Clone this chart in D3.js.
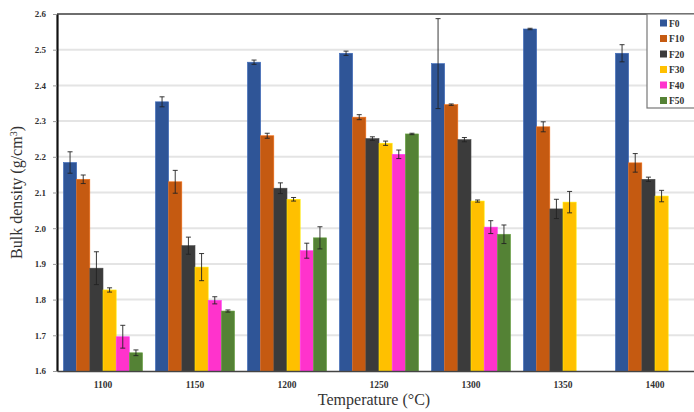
<!DOCTYPE html>
<html>
<head>
<meta charset="utf-8">
<script src="https://cdn.jsdelivr.net/npm/d3@7"></script>
<style>
  html, body { margin: 0; padding: 0; background: #fff; }
  svg { display: block; }
</style>
</head>
<body>
<svg id="chart" width="694" height="412"></svg>
<script>
// Sintering temperatures (°C)
const temperatures = ["1100", "1150", "1200", "1250", "1300", "1350", "1400"];
const seriesNames = ["F0", "F10", "F20", "F30", "F40", "F50"];
const seriesColors = ["#2F5597", "#C55A11", "#3B3B3B", "#FFC000", "#FF33CC", "#548235"];

// Bulk density (g/cm³) per mix, one value per temperature (null = not measured)
const F0  = [2.184, 2.354, 2.465, 2.490, 2.461, 2.558, 2.490];
const F10 = [2.137, 2.130, 2.259, 2.311, 2.346, 2.284, 2.183];
const F20 = [1.888, 1.951, 2.112, 2.251, 2.248, 2.054, 2.137];
const F30 = [1.827, 1.891, 2.081, 2.238, 2.076, 2.073, 2.090];
const F40 = [1.696, 1.798, 1.937, 2.207, 2.003, null, null];
const F50 = [1.651, 1.768, 1.973, 2.264, 1.983, null, null];

// Standard deviations
const F0err  = [0.030, 0.014, 0.006, 0.006, 0.126, 0.002, 0.024];
const F10err = [0.012, 0.032, 0.007, 0.007, 0.002, 0.014, 0.026];
const F20err = [0.046, 0.024, 0.015, 0.005, 0.006, 0.027, 0.006];
const F30err = [0.006, 0.038, 0.005, 0.006, 0.003, 0.030, 0.016];
const F40err = [0.032, 0.010, 0.021, 0.012, 0.018, null, null];
const F50err = [0.008, 0.003, 0.031, 0.002, 0.026, null, null];

const yTicks = [1.6, 1.7, 1.8, 1.9, 2.0, 2.1, 2.2, 2.3, 2.4, 2.5, 2.6];

const values = [F0, F10, F20, F30, F40, F50];
const errors = [F0err, F10err, F20err, F30err, F40err, F50err];

const rows = [];
seriesNames.forEach((s, si) => {
  temperatures.forEach((t, ti) => {
    const v = values[si][ti];
    if (v != null) rows.push({ series: s, si, temp: t, value: v, err: errors[si][ti] });
  });
});

const svg = d3.select("#chart");
const margin = { left: 57, top: 14, right: -7, bottom: 41 };
const W = 694, H = 412;
const plotRight = W - margin.right;
const plotBottom = H - margin.bottom;

const x0 = d3.scaleBand().domain(temperatures).range([margin.left, plotRight]).paddingInner(0).paddingOuter(0);
const x1 = d3.scaleBand().domain(seriesNames).range([0, x0.bandwidth()]).paddingInner(0).paddingOuter(0.49);
const y = d3.scaleLinear().domain([1.6, 2.6]).range([plotBottom, margin.top]);
const color = d3.scaleOrdinal().domain(seriesNames).range(seriesColors);

// Gridlines
svg.append("g")
  .selectAll("line")
  .data(yTicks.filter(d => d > 1.6 && d < 2.6))
  .join("line")
  .attr("x1", margin.left).attr("x2", W)
  .attr("y1", d => y(d)).attr("y2", d => y(d))
  .attr("stroke", "#e4e4e4").attr("stroke-width", 2);

// Bars
svg.append("g")
  .selectAll("rect")
  .data(rows)
  .join("rect")
  .attr("x", d => x0(d.temp) + x1(d.series))
  .attr("y", d => y(d.value))
  .attr("width", x1.bandwidth())
  .attr("height", d => y(1.6) - y(d.value))
  .attr("fill", d => color(d.series))
  .attr("stroke", d => d3.color(color(d.series)).brighter(0.6))
  .attr("stroke-width", 0.6);

// Error bars
const eb = svg.append("g").attr("stroke", "#222").attr("stroke-width", 0.9);
rows.forEach(d => {
  const cx = x0(d.temp) + x1(d.series) + x1.bandwidth() / 2;
  const yTop = y(d.value + d.err), yBot = y(d.value - d.err);
  eb.append("line").attr("x1", cx).attr("x2", cx).attr("y1", yTop).attr("y2", yBot);
  eb.append("line").attr("x1", cx - 2.5).attr("x2", cx + 2.5).attr("y1", yTop).attr("y2", yTop);
  eb.append("line").attr("x1", cx - 2.5).attr("x2", cx + 2.5).attr("y1", yBot).attr("y2", yBot);
});

// Top frame line
svg.append("line")
  .attr("x1", margin.left).attr("x2", W)
  .attr("y1", margin.top).attr("y2", margin.top)
  .attr("stroke", "#6e6e6e").attr("stroke-width", 2);

// Y axis
const yAxis = svg.append("g")
  .attr("transform", `translate(${margin.left},0)`)
  .call(d3.axisLeft(y).tickValues(yTicks).tickFormat(d3.format(".1f")).tickSize(4).tickSizeOuter(0));
yAxis.select(".domain").attr("stroke", "#111").attr("stroke-width", 2.2);
yAxis.selectAll(".tick line").attr("stroke", "#999");
yAxis.selectAll("text")
  .attr("x", -11)
  .attr("font-family", "Liberation Serif, DejaVu Serif, serif")
  .attr("font-size", 9).attr("font-weight", "bold").attr("fill", "#333");

// X axis
const xAxis = svg.append("g")
  .attr("transform", `translate(0,${plotBottom})`)
  .call(d3.axisBottom(x0).tickSize(0).tickSizeOuter(0));
xAxis.select(".domain").attr("stroke", "#444").attr("stroke-width", 1.6);
xAxis.selectAll("text")
  .attr("dy", "1.5em")
  .attr("font-family", "Liberation Serif, DejaVu Serif, serif")
  .attr("font-size", 9.5).attr("font-weight", "bold").attr("fill", "#333");

// Axis titles
svg.append("text")
  .attr("transform", `translate(22,${(margin.top + plotBottom) / 2}) rotate(-90)`)
  .attr("text-anchor", "middle")
  .attr("font-family", "Liberation Serif, DejaVu Serif, serif")
  .attr("font-size", 16).attr("fill", "#333")
  .html('Bulk density (g/cm<tspan baseline-shift="super" font-size="10">3</tspan>)');

svg.append("text")
  .attr("x", 374).attr("y", 405)
  .attr("text-anchor", "middle")
  .attr("font-family", "Liberation Serif, DejaVu Serif, serif")
  .attr("font-size", 16).attr("fill", "#333")
  .text("Temperature (°C)");

// Legend
const lg = svg.append("g");
lg.append("rect")
  .attr("x", 647).attr("y", margin.top).attr("width", 60).attr("height", 94)
  .attr("fill", "#fff").attr("stroke", "#777").attr("stroke-width", 1.2);
seriesNames.forEach((s, i) => {
  const yy = 23 + i * 15.5;
  lg.append("rect").attr("x", 660).attr("y", yy - 3.5).attr("width", 7).attr("height", 7).attr("fill", color(s));
  lg.append("text").attr("x", 669).attr("y", yy + 3.5)
    .attr("font-family", "Liberation Serif, DejaVu Serif, serif")
    .attr("font-size", 9.5).attr("font-weight", "bold").attr("fill", "#333")
    .text(s);
});
</script>
</body>
</html>
